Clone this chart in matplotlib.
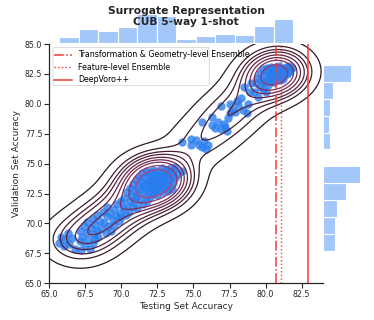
import numpy as np
import matplotlib
matplotlib.use("Agg")
import matplotlib.pyplot as plt
from matplotlib.colors import LinearSegmentedColormap
from matplotlib.patches import FancyBboxPatch

# scatter points (testing acc, validation acc)
test_acc = [
    65.7, 65.8, 66.0, 66.1, 66.3, 66.4, 66.6, 66.8,
    67.1, 67.1, 67.2, 67.3, 67.4, 67.5, 67.6, 67.6, 67.7, 67.8, 67.9, 68.0, 68.0, 68.1, 68.2, 68.2, 68.3, 68.3,
    68.4, 68.5, 68.6, 68.7, 68.8, 68.9, 69.0, 69.0, 69.1, 69.2, 69.3, 69.4, 69.5, 69.5, 69.6,
    69.7, 69.8, 69.9, 70.0, 70.0, 70.1, 70.2, 70.3, 70.4, 70.4, 70.5, 70.6, 70.6, 70.7, 70.8, 70.8, 70.9, 70.9, 71.0, 71.0,
    71.1, 71.1, 71.2, 71.2, 71.3, 71.3, 71.4, 71.4, 71.5, 71.5, 71.6, 71.6, 71.7, 71.7, 71.8, 71.8, 71.8, 71.9, 71.9,
    72.0, 72.0, 72.0, 72.1, 72.1, 72.1, 72.2, 72.2, 72.2, 72.3, 72.3, 72.3, 72.3, 72.35, 72.35, 71.9, 72.1, 72.25,
    72.45, 72.5, 72.5, 72.5, 72.5, 72.6, 72.6, 72.7, 72.7, 72.8, 72.8, 72.8, 72.9, 72.9, 73.0, 73.0, 73.1, 73.1,
    73.2, 73.2, 73.3, 73.3, 73.4, 73.4, 73.5, 73.5, 73.6, 73.6, 73.7, 73.7, 72.6, 72.9, 73.2, 72.7,
    73.9, 74.2, 74.2, 74.8, 74.8,
    75.2, 75.4, 75.6, 75.7, 75.9, 76.0, 75.6, 76.3, 76.3,
    76.5, 76.7, 76.9, 76.9, 77.1, 77.2, 77.3, 77.4, 77.5, 77.5, 77.7,
    77.9, 78.0, 78.1, 78.3, 78.4, 78.5, 78.7, 78.8, 78.9, 79.0,
    79.2, 79.3, 79.4, 79.5, 79.6, 79.6, 79.7, 79.8, 79.8, 79.9, 80.0, 80.0, 80.1, 80.1, 80.2, 80.2, 80.3, 80.3,
    80.4, 80.4, 80.5, 80.45,
    80.55, 80.6, 80.6, 80.7, 80.7, 80.8, 80.8, 80.9, 80.9, 81.0, 81.0, 81.1, 81.1, 81.2, 81.2, 81.3, 81.3,
    81.4, 81.4, 81.5, 81.5, 81.6, 81.6, 81.7, 81.8, 80.6, 80.75, 80.85, 81.05, 80.95,
]
val_acc = [
    68.4, 68.9, 68.1, 68.7, 69.2, 68.3, 68.8, 67.9,
    68.5, 69.4, 67.8, 68.9, 69.8, 68.2, 69.3, 70.1, 68.7, 67.9, 69.6, 68.4, 70.4, 69.1, 69.9, 68.7, 70.7, 69.4,
    68.9, 70.2, 69.5, 71.0, 70.0, 69.2, 70.6, 71.4, 69.8, 70.9, 69.4, 70.3, 71.2, 69.9, 70.6,
    71.6, 70.2, 70.9, 71.9, 70.5, 71.3, 72.1, 70.7, 71.5, 72.6, 71.0, 71.9, 73.0, 72.3, 71.4, 73.3, 72.7, 71.8, 73.6, 72.1,
    71.3, 72.5, 73.2, 73.9, 72.0, 72.9, 73.5, 74.2, 71.6, 72.6, 73.1, 73.8, 72.3, 74.4, 71.9, 73.0, 73.5, 72.7, 74.0,
    73.3, 72.2, 74.3, 73.6, 72.9, 73.9, 73.2, 72.5, 74.5, 73.4, 73.8, 72.8, 74.1, 73.5, 73.0, 73.4, 73.3, 73.7,
    73.4, 72.4, 73.1, 73.8, 74.4, 73.5, 72.8, 74.1, 73.3, 72.6, 73.9, 74.6, 73.2, 73.6, 72.9, 74.2, 73.4, 74.5,
    72.7, 73.9, 73.2, 74.3, 73.6, 74.6, 72.9, 74.0, 73.4, 74.4, 73.8, 74.7, 74.0, 74.3, 74.1, 73.6,
    74.1, 74.4, 76.8, 77.1, 76.6,
    77.0, 76.6, 76.4, 76.9, 76.2, 76.6, 78.5, 78.9, 78.2,
    78.0, 78.5, 77.9, 79.8, 78.3, 78.1, 77.7, 78.8, 79.2, 80.0, 79.5,
    79.3, 80.2, 79.9, 80.5, 79.5, 81.4, 79.2, 80.0, 81.0, 81.7,
    81.0, 81.7, 82.2, 80.6, 81.4, 82.6, 82.0, 81.2, 82.9, 81.8, 82.4, 81.0, 83.0, 82.1, 81.6, 82.7, 82.3, 81.9,
    83.1, 82.5, 82.0, 82.8,
    82.4, 82.9, 81.8, 82.6, 83.1, 82.2, 82.8, 82.5, 83.2, 82.0, 82.7, 82.4, 83.0, 82.6, 82.1, 82.9, 82.4,
    82.7, 83.1, 82.5, 82.9, 82.7, 83.2, 82.8, 83.0, 82.2, 82.4, 83.0, 82.9, 82.3,
]

# marginal histograms (bar counts)
top_counts = [8, 18, 15, 20, 37, 34, 5, 9, 11, 10, 22, 30]
top_lo, top_hi = 65.69, 81.90
right_counts = [17, 17, 19, 32, 52, 1, 10, 8, 10, 13, 39]   # bottom to top
right_lo, right_hi = 67.71, 83.25

# reference methods
ens_tg = 80.72
ens_feat = 81.05
deepvoro = 82.96

fig = plt.figure(figsize=(3.74, 3.2), dpi=100)
ax = fig.add_axes([0.1318, 0.1147, 0.7326, 0.7478])
ax_top = fig.add_axes([0.1318, 0.8647, 0.7326, 0.1353], sharex=ax)
ax_right = fig.add_axes([0.8645, 0.1147, 0.1355, 0.7478], sharey=ax)

dark = "#262626"

ax.scatter(test_acc, val_acc, s=36, color="#2a7def", alpha=0.8, linewidths=0, zorder=2)

# bivariate kde (axis-aligned gaussian kernels), iso-proportion contour levels
px = np.array(test_acc)
py = np.array(val_acc)
bw_x, bw_y = 1.25, 1.2
gx = np.linspace(61, 88, 270)
gy = np.linspace(61, 89, 270)
X, Y = np.meshgrid(gx, gy)
Z = np.zeros_like(X)
for xi, yi in zip(px, py):
    Z += np.exp(-0.5 * ((X - xi) / bw_x) ** 2 - 0.5 * ((Y - yi) / bw_y) ** 2)
isoprop = np.linspace(0.05, 1, 10)
vals = np.sort(Z.ravel())[::-1]
cum = np.cumsum(vals) / vals.sum()
levels = np.unique(np.take(vals, np.searchsorted(cum, 1 - isoprop), mode="clip"))
cmap = LinearSegmentedColormap.from_list("kde", ["#2b1820", "#852c5c", "#ee58a0"])
ax.contour(X, Y, Z, levels=levels, cmap=cmap, linewidths=0.9, zorder=3)

ax.axvline(ens_tg, color="#f03c3c", lw=1.1, ls="-.", label="Transformation & Geometry-level Ensemble", zorder=4)
ax.axvline(ens_feat, color="#f03c3c", lw=1.0, ls=":", label="Feature-level Ensemble", zorder=4)
ax.axvline(deepvoro, color="#f03c3c", lw=1.1, ls="-", label="DeepVoro++", zorder=4)

ax.set_xlim(65, 84)
ax.set_ylim(65, 85)
ax.set_xticks(np.arange(65, 83, 2.5))
ax.set_yticks(np.arange(65, 86, 2.5))
ax.set_xticklabels([f"{t:.1f}" for t in np.arange(65, 83, 2.5)])
ax.set_yticklabels([f"{t:.1f}" for t in np.arange(65, 86, 2.5)])
ax.tick_params(labelsize=5.7, colors=dark, length=3.5, width=0.8, pad=1.5)
for s in ["top", "right"]:
    ax.spines[s].set_visible(False)
for s in ["left", "bottom"]:
    ax.spines[s].set_color(dark)
    ax.spines[s].set_linewidth(0.9)
ax.set_xlabel("Testing Set Accuracy", fontsize=6.5, color=dark, labelpad=2)
ax.set_ylabel("Validation Set Accuracy", fontsize=6.5, color=dark, labelpad=3)

# legend text overflows its box in the original
leg = ax.legend(loc="upper left", fontsize=5.7, frameon=False, borderpad=0.3,
                labelspacing=0.45, handlelength=2.3, handletextpad=0.7,
                bbox_to_anchor=(-0.005, 1.0))
box = FancyBboxPatch((0.0135, 0.826), 0.57, 0.16, transform=ax.transAxes,
                     boxstyle="round,pad=0,rounding_size=0.008", facecolor="white",
                     edgecolor="#cccccc", linewidth=0.6, alpha=0.85, zorder=5)
ax.add_patch(box)
leg.set_zorder(6)

# marginal histograms
top_edges = np.linspace(top_lo, top_hi, len(top_counts) + 1)
ax_top.bar(top_edges[:-1], top_counts, width=np.diff(top_edges), align="edge",
           color="#a4c7fa", edgecolor="white", linewidth=0.8)
ax_top.set_ylim(0, 54.1)
right_edges = np.linspace(right_lo, right_hi, len(right_counts) + 1)
ax_right.barh(right_edges[:-1], right_counts, height=np.diff(right_edges), align="edge",
              color="#a4c7fa", edgecolor="white", linewidth=0.8)
ax_right.set_xlim(0, 71.3)
for a in (ax_top, ax_right):
    a.axis("off")

fig.text(0.498, 0.948, "Surrogate Representation\nCUB 5-way 1-shot", ha="center", va="center",
         fontsize=7.7, fontweight="bold", color=dark, linespacing=1.05)

fig.savefig("out.png", dpi=100)
